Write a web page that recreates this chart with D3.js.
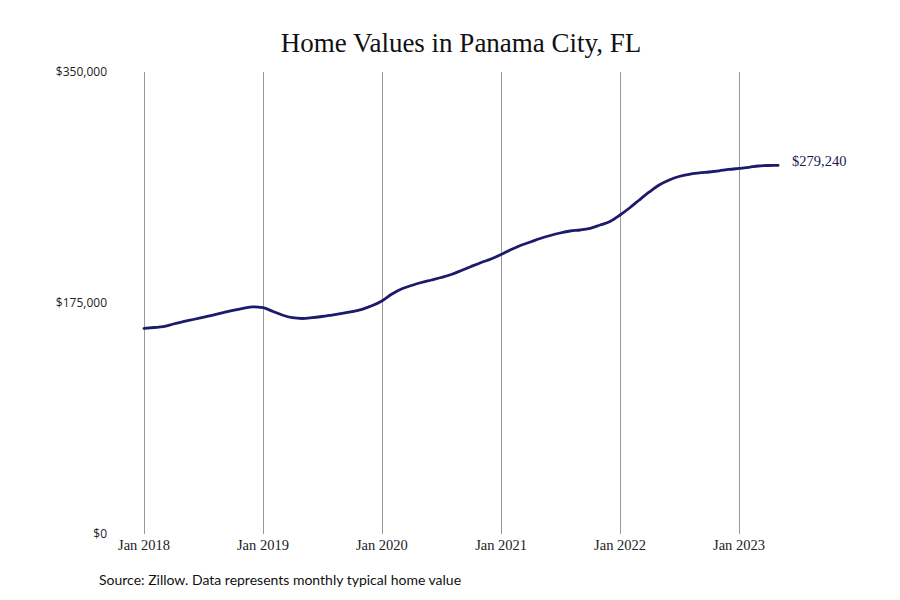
<!DOCTYPE html>
<html>
<head>
<meta charset="utf-8">
<title>Home Values in Panama City, FL</title>
<style>
  body { margin: 0; background: #fff; }
  #chart { width: 900px; height: 600px; }
</style>
</head>
<body>
<div id="chart"></div>
<script src="https://cdn.jsdelivr.net/npm/d3@7"></script>
<script>
// monthly typical home value, Jan 2018 .. May 2023
var startMonth = [2018, 0];
var homeValues = [
  155840, 156450, 157050, 159100, 160830, 162500, 164170, 165900, 167650, 169470, 171000, 172050,
  171440, 168570, 165900, 163870, 163270, 163870, 164780, 165900, 167050, 168410, 170230, 172880,
  176520, 181820, 185600, 188260, 190530, 192430, 194320, 196600, 199620, 202650, 205680, 208340,
  211750, 215530, 218570, 221220, 223870, 226140, 228030, 229540, 230300, 231590, 234100, 236750,
  241670, 247350, 253040, 259100, 264400, 268190, 270840, 272510, 273500, 274250, 275160, 276150,
  276980, 277810, 278800, 279180, 279240
];
var yTicks = [0, 175000, 350000];
var xTickYears = [2018, 2019, 2020, 2021, 2022, 2023];
var titleText = "Home Values in Panama City, FL";
var sourceText = "Source: Zillow. Data represents monthly typical home value";

var data = homeValues.map(function(v, i) {
  return { date: new Date(startMonth[0], startMonth[1] + i, 1), value: v };
});

var W = 900, H = 600;
var svg = d3.select('#chart').append('svg').attr('width', W).attr('height', H);

var x = d3.scaleTime()
  .domain([new Date(2018, 0, 1), new Date(2023, 0, 1)])
  .range([144, 739]);
var y = d3.scaleLinear().domain([0, 350000]).range([534, 72]);

// title
svg.append('text')
  .attr('x', 461).attr('y', 52)
  .attr('text-anchor', 'middle')
  .style('font-family', '"Liberation Serif", serif')
  .style('font-size', '27px')
  .style('fill', '#111')
  .text(titleText);

// vertical grid lines at each January
var gx = svg.append('g');
gx.selectAll('line').data(xTickYears).enter().append('line')
  .attr('x1', function(d) { return Math.round(x(new Date(d, 0, 1))) + 0.5; })
  .attr('x2', function(d) { return Math.round(x(new Date(d, 0, 1))) + 0.5; })
  .attr('y1', y(350000)).attr('y2', y(0))
  .style('stroke', '#999').style('stroke-width', 1);

// x labels
gx.selectAll('text').data(xTickYears).enter().append('text')
  .attr('x', function(d) { return x(new Date(d, 0, 1)); })
  .attr('y', 550)
  .attr('text-anchor', 'middle')
  .style('font-family', '"Liberation Serif", serif')
  .style('font-size', '14.5px')
  .style('fill', '#222')
  .text(function(d) { return 'Jan ' + d; });

// y labels
var fmt = d3.format('$,');
svg.append('g').selectAll('text').data(yTicks).enter().append('text')
  .attr('x', 107)
  .attr('y', function(d) { return y(d); })
  .attr('dy', '0.35em')
  .attr('text-anchor', 'end')
  .style('font-family', '"Open Sans", sans-serif')
  .style('font-size', '12px')
  .style('fill', '#222')
  .text(function(d) { return fmt(d); });

// line
var line = d3.line()
  .x(function(d) { return x(d.date); })
  .y(function(d) { return y(d.value); })
  .curve(d3.curveMonotoneX);

svg.append('path')
  .datum(data)
  .attr('d', line)
  .style('fill', 'none')
  .style('stroke', '#1c1a6b')
  .style('stroke-width', 2.8)
  .style('stroke-linecap', 'round');

// last value label
var last = data[data.length - 1];
svg.append('text')
  .attr('x', x(last.date) + 14)
  .attr('y', y(last.value))
  .attr('dy', '0.05em')
  .style('font-family', '"Liberation Serif", serif')
  .style('font-size', '14.5px')
  .style('fill', '#1a1a4e')
  .text(fmt(last.value));

// source
svg.append('text')
  .attr('x', 99).attr('y', 585)
  .style('font-family', 'Lato, sans-serif')
  .style('font-size', '14px')
  .style('fill', '#111')
  .text(sourceText);
</script>
</body>
</html>
